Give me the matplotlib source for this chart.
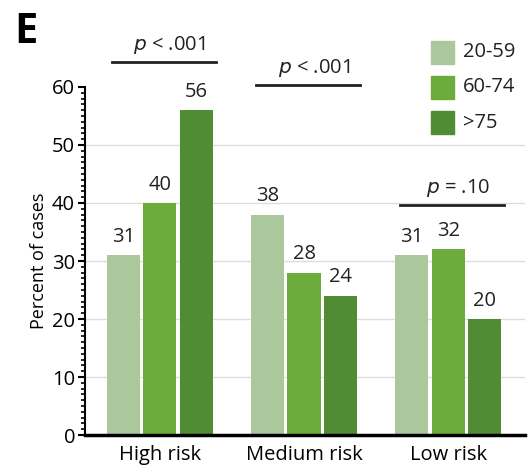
import matplotlib
matplotlib.use("Agg")
import matplotlib.pyplot as plt
import numpy as np
from matplotlib.ticker import MultipleLocator
from matplotlib.patches import Rectangle

# Anteil der Faelle je Risikogruppe und Altersklasse
categories = ["High risk", "Medium risk", "Low risk"]
age_groups = ["20-59", "60-74", ">75"]
pct_20_59 = [31, 38, 31]
pct_60_74 = [40, 28, 32]
pct_75 = [56, 24, 20]
p_labels = ["p < .001", "p < .001", "p = .10"]
p_line_y = [64.3, 60.3, 39.7]

colors = ["#abc89d", "#6cab3c", "#4f8c34"]
FS = 14.5

plt.rcParams["font.family"] = ["Open Sans", "DejaVu Sans"]

fig = plt.figure(figsize=(5.3, 4.75), dpi=100)
ax = fig.add_axes([0.16, 0.084, 0.83, 0.733])

x = np.arange(len(categories))
width = 0.23
step = 0.253
series = [pct_20_59, pct_60_74, pct_75]

for i, (vals, col) in enumerate(zip(series, colors)):
    pos = x + (i - 1) * step
    bars = ax.bar(pos, vals, width, color=col, zorder=2)
    ax.bar_label(bars, padding=6, fontsize=FS, color="#222222")

# Gitterlinien hinter den Balken
for yv in range(10, 60, 10):
    ax.axhline(yv, color="#dddddd", lw=1, zorder=0)

ax.set_xlim(-0.52, 2.53)
ax.set_ylim(0, 60)
ax.set_xticks(x)
ax.set_xticklabels(categories, fontsize=FS)
ax.tick_params(axis="x", length=0, pad=7)
ax.yaxis.set_major_locator(MultipleLocator(10))
ax.yaxis.set_minor_locator(MultipleLocator(1))
ax.tick_params(axis="y", which="major", length=5, width=1.5, labelsize=FS, pad=2)
ax.tick_params(axis="y", which="minor", length=3, width=1.2)
ax.set_ylabel("Percent of cases", fontsize=13, labelpad=3)

for s in ["top", "right"]:
    ax.spines[s].set_visible(False)
ax.spines["left"].set_linewidth(1.5)
ax.spines["bottom"].set_linewidth(2.5)

# Signifikanzbalken ueber den Gruppen
for xi, lab, yl in zip(x, p_labels, p_line_y):
    x0 = xi - step - width / 2 + 0.035
    x1 = xi + step + width / 2 + 0.02
    ax.plot([x0, x1], [yl, yl], color="#222222", lw=2, clip_on=False)
    p, rest = lab.split(" ", 1)
    ax.text((x0 + x1) / 2 + 0.04, yl + 1.0, f"$\\it{{p}}$ {rest}", ha="center",
            va="bottom", fontsize=FS, color="#222222")

# Legende als Quadrate oben rechts
for i, (lab, col) in enumerate(zip(age_groups, colors)):
    yy = 0.890 - i * 0.074
    fig.patches.append(Rectangle((0.813, yy - 0.024), 0.043, 0.048,
                                 transform=fig.transFigure, color=col))
    fig.text(0.873, yy, lab, va="center", fontsize=FS, color="#222222")

fig.text(0.027, 0.975, "E", fontsize=30, fontweight="bold", va="top")

fig.savefig("out.png", dpi=100)
